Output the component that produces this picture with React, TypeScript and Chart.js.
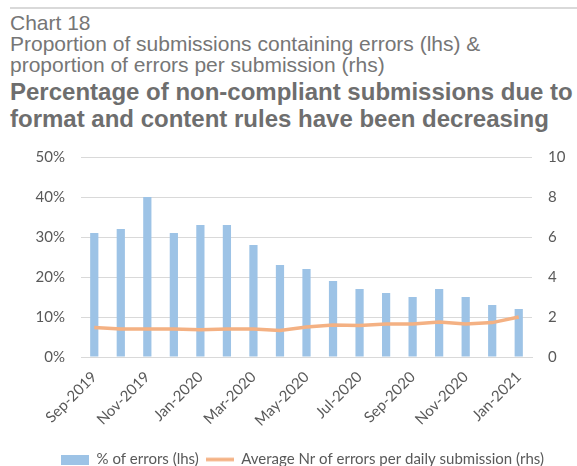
import React, { useEffect, useRef } from "react";
import { Chart, registerables } from "chart.js";

Chart.register(...registerables);

const categories = [
  "Sep-2019", "Oct-2019", "Nov-2019", "Dec-2019", "Jan-2020", "Feb-2020", "Mar-2020", "Apr-2020",
  "May-2020", "Jun-2020", "Jul-2020", "Aug-2020", "Sep-2020", "Oct-2020", "Nov-2020", "Dec-2020", "Jan-2021",
];
const errorPct = [31, 32, 40, 31, 33, 33, 28, 23, 22, 19, 17, 16, 15, 17, 15, 13, 12];
const avgErrors = [1.47, 1.4, 1.4, 1.4, 1.36, 1.4, 1.4, 1.32, 1.5, 1.6, 1.58, 1.65, 1.65, 1.75, 1.65, 1.72, 2.0];
const leftTicks = [0, 10, 20, 30, 40, 50];
const rightTicks = [0, 2, 4, 6, 8, 10];

const FONT = "Lato, 'Liberation Sans', sans-serif";
const TXT = "#595959";
const BAR = "#9dc3e6";
const LINE = "#f4b183";

function marker(kind: "rect" | "line") {
  const c = document.createElement("canvas");
  c.width = 28;
  c.height = 10;
  const g = c.getContext("2d")!;
  if (kind === "rect") {
    g.fillStyle = BAR;
    g.fillRect(0, 0, 28, 10);
  } else {
    g.strokeStyle = LINE;
    g.lineWidth = 3.5;
    g.beginPath();
    g.moveTo(0, 5);
    g.lineTo(28, 5);
    g.stroke();
  }
  return c;
}

export default function App() {
  const ref = useRef<HTMLCanvasElement | null>(null);
  useEffect(() => {
    document.body.style.margin = "0";
    const ctx = ref.current!.getContext("2d")!;
    const mRect = marker("rect");
    const mLine = marker("line");
    const chart = new Chart(ctx, {
      type: "bar",
      data: {
        labels: categories,
        datasets: [
          {
            type: "line",
            label: "Average Nr of errors per daily submission (rhs)",
            data: avgErrors,
            borderColor: LINE,
            backgroundColor: LINE,
            borderWidth: 3.5,
            pointRadius: 0,
            tension: 0,
            yAxisID: "y2",
            order: 0,
          } as any,
          {
            type: "bar",
            label: "% of errors (lhs)",
            data: errorPct,
            backgroundColor: BAR,
            borderWidth: 0,
            barPercentage: 0.31,
            categoryPercentage: 1,
            yAxisID: "y",
            order: 1,
          },
        ],
      },
      options: {
        responsive: false,
        animation: false,
        layout: { padding: { top: 12, left: 28, right: 0, bottom: 0 } },
        plugins: {
          tooltip: { enabled: false },
          legend: {
            position: "bottom",
            labels: {
              font: { family: FONT, size: 15 },
              color: TXT,
              usePointStyle: true,
              pointStyleWidth: 28,
              boxHeight: 10,
              padding: 7,
              generateLabels: (c: any) => [
                { text: "% of errors (lhs)", pointStyle: mRect, fillStyle: BAR, strokeStyle: BAR, lineWidth: 0, datasetIndex: 1, hidden: false, fontColor: TXT },
                { text: c.data.datasets[0].label, pointStyle: mLine, fillStyle: LINE, strokeStyle: LINE, lineWidth: 0, datasetIndex: 0, hidden: false, fontColor: TXT },
              ],
            },
          },
        },
        scales: {
          x: {
            grid: { display: false },
            border: { display: true, color: "#d9d9d9" },
            ticks: {
              autoSkip: false,
              maxRotation: 45,
              minRotation: 45,
              color: TXT,
              font: { family: FONT, size: 15 },
              callback: (v: any, i: number) => (i % 2 === 0 ? categories[i] : ""),
            },
            afterFit: (s: any) => { s.height = 88; },
          },
          y: {
            position: "left",
            min: 0,
            max: 50,
            afterBuildTicks: (s: any) => { s.ticks = leftTicks.map((v) => ({ value: v })); },
            grid: { color: "#d9d9d9", drawTicks: false },
            border: { display: false },
            ticks: {
              padding: 16,
              color: TXT,
              font: { family: FONT, size: 15 },
              callback: (v: any) => v + "%",
            },
            afterFit: (s: any) => { s.width = 53; },
          },
          y2: {
            position: "right",
            min: 0,
            max: 10,
            afterBuildTicks: (s: any) => { s.ticks = rightTicks.map((v) => ({ value: v })); },
            grid: { display: false, drawTicks: false },
            border: { display: false },
            ticks: {
              padding: 16,
              color: TXT,
              font: { family: FONT, size: 15 },
            },
            afterFit: (s: any) => { s.width = 45; },
          },
        },
      },
    });
    return () => chart.destroy();
  }, []);

  const normal: React.CSSProperties = {
    fontFamily: "'Liberation Sans', Arial, sans-serif",
    fontSize: 21,
    color: "#767676",
    lineHeight: "21px",
    whiteSpace: "nowrap",
  };
  const bold: React.CSSProperties = {
    fontFamily: "'Liberation Sans', Arial, sans-serif",
    fontSize: 24,
    fontWeight: "bold",
    color: "#6e6e6e",
    lineHeight: "27px",
    whiteSpace: "nowrap",
  };
  return (
    <div style={{ position: "relative", width: 577, height: 466, background: "#fff", overflow: "hidden" }}>
      <div style={{ position: "absolute", top: 7, left: 10, width: 567, height: 2, background: "#d9d9d9" }} />
      <div style={{ position: "absolute", top: 12, left: 10 }}>
        <div style={normal}>Chart 18</div>
        <div style={normal}>Proportion of submissions containing errors (lhs) &amp;</div>
        <div style={normal}>proportion of errors per submission (rhs)</div>
        <div style={{ height: 3 }} />
        <div style={bold}>Percentage of non-compliant submissions due to</div>
        <div style={bold}>format and content rules have been decreasing</div>
      </div>
      <canvas ref={ref} width={577} height={345} style={{ position: "absolute", top: 132, left: 0 }} />
    </div>
  );
}
